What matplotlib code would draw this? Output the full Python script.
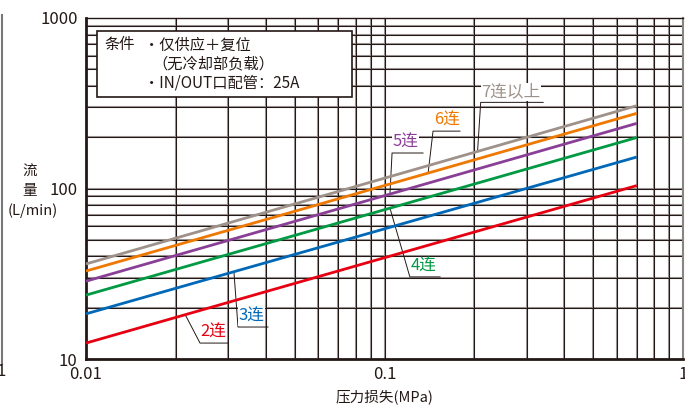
import numpy as np
import matplotlib
matplotlib.use('Agg')
import matplotlib.pyplot as plt
from matplotlib.lines import Line2D
from matplotlib.patches import Rectangle
from matplotlib.ticker import FixedLocator, NullLocator

plt.rcParams['font.family'] = ['Noto Sans CJK SC', 'DejaVu Sans']

# pressure drop (MPa) at the two ends of each line
dp = [0.01, 0.7]

# flow rate (L/min) read at the two ends
names = ['2连', '3连', '4连', '5连', '6连', '7连以上']
flow_start = [12.4, 18.4, 23.7, 28.6, 32.8, 36.1]
flow_end = [104, 153, 199, 241, 276, 306]
colors = ['#e60012', '#0068b7', '#009944', '#8a3f97', '#ee7800', '#9e918a']

# label leaders: x on the line, elbow (x, y), end of underline
lead_x = [0.0215, 0.0313, 0.1043, 0.1043, 0.140, 0.205]
elbow_x = [0.0241, 0.0323, 0.1216, 0.106, 0.1454, 0.21]
elbow_y = [12.4, 15.4, 30.3, 161.5, 217, 320]
under_end = [0.0299, 0.0407, 0.1535, 0.1346, 0.179, 0.34]

dark = '#231815'

fig = plt.figure(figsize=(6.85, 4.08), dpi=100)
W, H = 685, 408
ax = fig.add_axes([86 / W, 1 - 359 / H, (683 - 86) / W, (359 - 18) / H])
ax.set_xscale('log')
ax.set_yscale('log')
ax.set_xlim(0.01, 1)
ax.set_ylim(10, 1000)

# grid
xs = [m * 10.0 ** e for e in (-2, -1) for m in range(1, 10)][1:]
ys = [m * 10.0 ** e for e in (1, 2) for m in range(1, 10)][1:]
for x in xs:
    ax.axvline(x, color='#9a9492', lw=1.5, zorder=1)
    ax.axvline(x, color=dark, lw=0.75, zorder=1.1)
for y in ys:
    ax.axhline(y, color='#9a9492', lw=1.5, zorder=1)
    ax.axhline(y, color=dark, lw=0.75, zorder=1.1)

# series
for i in range(len(names)):
    ax.plot(dp, [flow_start[i], flow_end[i]], color=colors[i], lw=2.0,
            solid_capstyle='butt', zorder=3)
    # leader and label
    b = np.log10(flow_end[i] / flow_start[i]) / np.log10(dp[1] / dp[0])
    ly = flow_start[i] * (lead_x[i] / dp[0]) ** b
    ax.plot([lead_x[i], elbow_x[i], under_end[i]],
            [ly, elbow_y[i], elbow_y[i]], color=dark, lw=0.7, zorder=2.5)
    ax.text(elbow_x[i] * 1.005, elbow_y[i] * 1.03, names[i], color=colors[i],
            fontsize=12, fontweight='medium', ha='left', va='bottom', zorder=4,
            bbox=dict(facecolor='white', edgecolor='none', pad=0.5))

for s in ['left', 'bottom']:
    ax.spines[s].set_linewidth(2.0)
    ax.spines[s].set_color(dark)
ax.spines['top'].set_linewidth(1.0)
ax.spines['top'].set_color(dark)
ax.spines['right'].set_linewidth(1.5)
ax.spines['right'].set_color('#8a8482')

ax.xaxis.set_major_locator(FixedLocator([0.01, 0.1, 1]))
ax.yaxis.set_major_locator(FixedLocator([10, 100, 1000]))
ax.xaxis.set_minor_locator(NullLocator())
ax.yaxis.set_minor_locator(NullLocator())
ax.set_xticklabels(['0.01', '0.1', '1'])
ax.set_yticklabels(['10', '100', '1000'])
ax.tick_params(length=0, labelsize=12, labelcolor=dark)
ax.tick_params(axis='x', pad=5)
ax.tick_params(axis='y', pad=6)

# condition box
fig.add_artist(Rectangle((97 / W, 1 - 97 / H), (352 - 97) / W, (97 - 31) / H,
                         transform=fig.transFigure, facecolor='white',
                         edgecolor=dark, lw=1.2, zorder=5))
box_kw = dict(fontsize=11, fontweight='medium', color=dark, va='center', zorder=6)
fig.text(104 / W, 1 - 45 / H, '条件', **box_kw)
fig.text(144 / W, 1 - 45 / H, '・仅供应＋复位', **box_kw)
fig.text(152 / W, 1 - 64 / H, '（无冷却部负载）', **box_kw)
fig.text(144 / W, 1 - 83 / H, '・IN/OUT口配管：25A', **box_kw)

# axis titles
fig.text(30 / W, 1 - 172 / H, '流', fontsize=10.5, color=dark, ha='center', va='center')
fig.text(30 / W, 1 - 191 / H, '量', fontsize=10.5, color=dark, ha='center', va='center')
fig.text(33 / W, 1 - 211 / H, '(L/min)', fontsize=10.5, color=dark, ha='center', va='center')
fig.text(384 / W, 1 - 397 / H, '压力损失(MPa)', fontsize=10.5, color=dark, ha='center', va='center')

# fragment of the neighbouring chart at the left edge
fig.add_artist(Line2D([2 / W, 2 / W], [1 - 15 / H, 1 - 364 / H], color='#777777', lw=1.5))
fig.text(1 / W, 1 - 372 / H, '1', fontsize=12, color=dark, ha='center', va='center')

fig.savefig('out.png', dpi=100)
